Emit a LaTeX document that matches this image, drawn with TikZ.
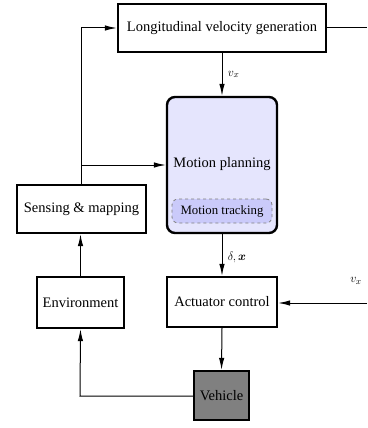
\documentclass[tikz,border=0pt]{standalone}
\usepackage{fontspec}
\setmainfont{Liberation Serif}
\usepackage{bm}
\usetikzlibrary{arrows.meta}
\definecolor{plan}{HTML}{E5E5FD}
\definecolor{track}{HTML}{CACAFA}
\definecolor{veh}{HTML}{808080}
\tikzset{
  blk/.style={draw, line width=2.4pt, inner sep=0pt, font=\fontsize{14.5}{17}\selectfont},
  conn/.style={line width=1pt, -{Latex[length=12pt,width=5.5pt]}},
  line/.style={line width=1pt},
  lab/.style={font=\fontsize{13}{15}\selectfont}
}
\begin{document}
\begin{tikzpicture}[x=1pt,y=-1pt]
\useasboundingbox (0,0) rectangle (367,428);
\node[blk, minimum width=208pt, minimum height=48pt] (lvg) at (222,28) {Longitudinal velocity generation};
\node[blk, rounded corners=8pt, fill=plan, minimum width=110pt, minimum height=136pt] (mp) at (222,165) {};
\node[font=\fontsize{14.5}{17}\selectfont] (mpt) at (222,164) {Motion planning};
\node[draw=gray, dashed, line width=0.8pt, rounded corners=6pt, fill=track, minimum width=100pt, minimum height=24pt, inner sep=0pt, font=\fontsize{12.8}{15}\selectfont] (mt) at (222,211) {Motion tracking};
\node[blk, minimum width=129pt, minimum height=48pt] (sm) at (81.5,209) {Sensing \& mapping};
\node[blk, minimum width=87pt, minimum height=51pt] (env) at (80.5,302.5) {Environment};
\node[blk, minimum width=110pt, minimum height=50pt] (ac) at (222,302) {Actuator control};
\node[blk, fill=veh, minimum width=55pt, minimum height=49pt] (veh) at (221.5,395.5) {Vehicle};
\coordinate (rt) at (367,28);
\coordinate (rin) at (367,303);
\coordinate (tl) at (81,28);
\coordinate (br) at (81,165);
\coordinate (bl) at (80,396);
% connectors
\draw[line] (lvg.east) -- (rt);
\draw[conn] (lvg.south) -- node[lab, right, xshift=2pt] {$v_x$} (mp.north);
\draw[conn] (mp.south) -- node[lab, right, xshift=2pt, yshift=-2pt] {$\delta,\bm{x}$} (ac.north);
\draw[conn] (rin) -- (ac.east |- rin);
\node[lab] (vx2) at (356,281) {$v_x$};
\draw[conn] (ac.south) -- (veh.north);
\draw[conn] (veh.west |- bl) -- (bl) -- (env.south);
\draw[conn] (env.north) -- (env.north |- sm.south);
\draw[conn] (sm.north -| tl) -- (tl) -- (lvg.west);
\draw[conn] (br) -- (mp.west |- br);
\end{tikzpicture}
\end{document}
